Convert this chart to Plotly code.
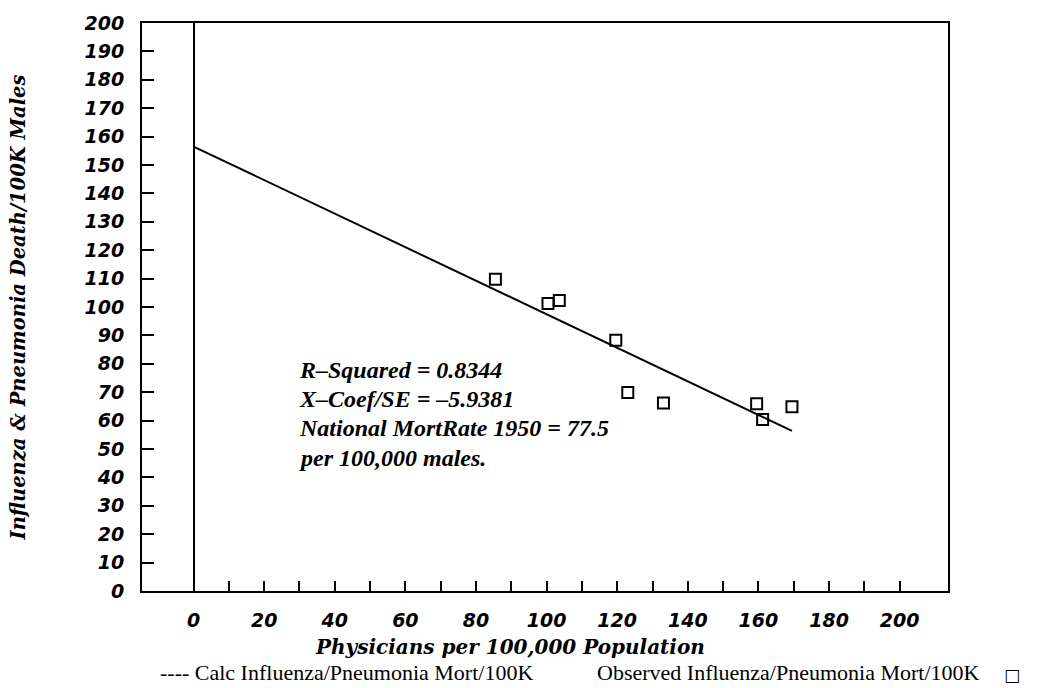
import plotly.graph_objects as go

# ---- data ----
obs_x = [85.5, 100.4, 103.6, 119.6, 123.0, 133.1, 159.5, 161.2, 169.5]
obs_y = [109.8, 101.2, 102.3, 88.3, 69.9, 66.2, 65.9, 60.4, 64.9]
calc_x = [0, 169.5]
calc_y = [156.5, 56.4]

x_tickvals = list(range(0, 201, 10))
x_ticktext = [str(v) if v % 20 == 0 else "" for v in x_tickvals]
y_tickvals = list(range(0, 201, 10))
y_ticktext = [str(v) for v in y_tickvals]

stats_lines = ["R\u2013Squared = 0.8344",
               "X\u2013Coef/SE = \u20135.9381",
               "National MortRate 1950 = 77.5",
               "per 100,000 males."]
x_title = "Physicians per 100,000 Population"
y_title = "Influenza & Pneumonia Death/100K Males"
legend_calc = "---- Calc Influenza/Pneumonia Mort/100K"
legend_obs = "Observed Influenza/Pneumonia Mort/100K"

W, H = 1046, 688
L, R, T, B = 142, 98, 18, 97
PW = W - L - R
PH = H - T - B


def px_x(p):
    return (p - L) / PW


def px_y(p):
    return 1 - (p - T) / PH


fig = go.Figure()
fig.add_trace(go.Scatter(x=calc_x, y=calc_y, mode="lines",
                         line=dict(color="black", width=2),
                         name="Calc Influenza/Pneumonia Mort/100K", showlegend=False))
fig.add_trace(go.Scatter(x=obs_x, y=obs_y, mode="markers",
                         marker=dict(symbol="square-open", size=11, color="black",
                                     line=dict(width=2, color="black")),
                         name="Observed Influenza/Pneumonia Mort/100K", showlegend=False))

tickfont = dict(family="DejaVu Sans", size=19, color="black", weight="bold", style="italic")
titlefont = dict(family="DejaVu Serif", size=19.5, color="black", weight="bold", style="italic")

fig.update_xaxes(range=[-14.6, 213.7], tickvals=x_tickvals, ticktext=x_ticktext,
                 ticks="inside", ticklen=10, tickwidth=2, tickcolor="black",
                 showline=True, linewidth=2, linecolor="black", mirror=True,
                 showgrid=False, zeroline=True, zerolinecolor="black", zerolinewidth=2,
                 tickfont=tickfont, ticklabelstandoff=11)
fig.update_yaxes(range=[0, 200], tickvals=y_tickvals, ticktext=y_ticktext,
                 ticks="inside", ticklen=12, tickwidth=2, tickcolor="black",
                 showline=True, linewidth=2, linecolor="black", mirror=True,
                 showgrid=False, zeroline=False,
                 tickfont=tickfont, ticklabelstandoff=12,
                 title=dict(text=y_title, font=titlefont, standoff=54))

ann = []
for i, s in enumerate(stats_lines):
    ann.append(dict(text=s, xref="paper", yref="paper", x=px_x(297), y=px_y(368 + i * 29.5),
                    xanchor="left", yanchor="middle", showarrow=False,
                    font=dict(family="Liberation Serif", size=24, color="black",
                              weight="bold", style="italic")))
ann.append(dict(text=x_title, xref="paper", yref="paper", x=px_x(510), y=px_y(647),
                xanchor="center", yanchor="middle", showarrow=False,
                font=dict(family="DejaVu Serif", size=20, color="black",
                          weight="bold", style="italic")))
legfont = dict(family="Liberation Serif", size=22, color="black")
leg_y = px_y(687.5)
ann.append(dict(text=legend_calc, xref="paper", yref="paper", x=px_x(158), y=leg_y,
                xanchor="left", yanchor="bottom", showarrow=False, font=legfont))
ann.append(dict(text=legend_obs, xref="paper", yref="paper", x=px_x(595), y=leg_y,
                xanchor="left", yanchor="bottom", showarrow=False, font=legfont))
ann.append(dict(text="\u25a1", xref="paper", yref="paper", x=px_x(1012), y=leg_y,
                xanchor="center", yanchor="bottom", showarrow=False,
                font=dict(family="DejaVu Sans", size=17, color="black")))

fig.update_layout(width=W, height=H, margin=dict(l=L, r=R, t=T, b=B),
                  paper_bgcolor="white", plot_bgcolor="white",
                  annotations=ann, showlegend=False)

fig.write_html("out.html", config={"displayModeBar": False},
               post_script="document.body.style.margin='0';document.body.style.overflow='hidden';")
